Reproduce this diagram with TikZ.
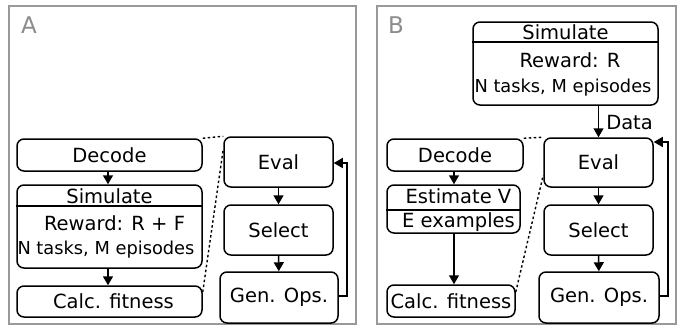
\documentclass[tikz,border=0pt]{standalone}
\usepackage{fontspec}
\setmainfont{DejaVu Sans}
\usetikzlibrary{arrows.meta,calc}
\begin{document}
\begin{tikzpicture}[x=1pt,y=-1pt,
  every node/.style={font=\fontsize{19.5}{22}\selectfont},
  box/.style={draw=black,line width=1.5pt,rounded corners=7pt,inner sep=0pt,anchor=center},
  lbl/.style={inner sep=0pt,anchor=base},
  smalllbl/.style={inner sep=0pt,anchor=base,font=\fontsize{17.8}{20}\selectfont},
  frame/.style={draw=black!40,line width=1.8pt},
  arr/.style={line width=1.5pt,-{Triangle[length=9pt,width=10pt]}},
  dotline/.style={line width=1.4pt,dash pattern=on 2.5pt off 2.5pt},
  plabel/.style={inner sep=0pt,text=black!45,font=\fontsize{23}{26}\selectfont}]
\useasboundingbox (0,0) rectangle (687,327);
% frames
\draw[frame] (9,6) rectangle (356,324);
\draw[frame] (377,6) rectangle (676,324);
\node[plabel] (labA) at (29,25) {A};
\node[plabel] (labB) at (396,25) {B};

% ---------- Panel A ----------
\node[box,minimum width=185pt,minimum height=32pt] (decA) at (109.5,155) {Decode};
\node[box,minimum width=185pt,minimum height=83pt] (simA) at (109.5,226.5) {};
\draw[line width=1.5pt] (simA.west |- 0,206) -- (simA.east |- 0,206);
\node[lbl] (simAt) at (109.5,203) {Simulate};
\node[lbl] (simAr) at (114.5,230) {Reward: R + F};
\node[smalllbl] (simAn) at (106,254) {N tasks, M episodes};
\node[box,minimum width=185pt,minimum height=31pt] (calA) at (109.5,301.5) {\hspace*{8pt}Calc. fitness};
\node[box,minimum width=109pt,minimum height=50pt] (evalA) at (278.5,162) {Eval};
\node[box,minimum width=109pt,minimum height=50pt] (selA) at (278.5,230) {Select};
\node[box,minimum width=118pt,minimum height=51pt] (genA) at (279,297.5) {Gen. Ops.};
\coordinate (fbA) at (347,0);

\draw[arr] (decA.south -| 108,0) -- (simA.north -| 108,0);
\draw[arr] (simA.south -| 108,0) -- (calA.north -| 108,0);
\draw[arr] (evalA) -- (selA);
\draw[arr] (selA) -- (genA);
\draw[arr] (genA.east |- 0,296) -| (fbA |- 0,163) -- (evalA.east |- 0,163);
\draw[dotline] (decA.north east) -- (evalA.north west);
\draw[dotline] (calA.east |- 0,292) -- ($(evalA.north west)!0.25!(evalA.south west)$);

% ---------- Panel B ----------
\node[box,minimum width=185pt,minimum height=83pt] (simB) at (565.5,63.5) {};
\draw[line width=1.5pt] (simB.west |- 0,42) -- (simB.east |- 0,42);
\node[lbl] (simBt) at (565.5,39) {Simulate};
\node[lbl] (simBr) at (570,67) {Reward: R};
\node[smalllbl] (simBn) at (563,92) {N tasks, M episodes};
\node[box,minimum width=109pt,minimum height=49pt] (evalB) at (598.5,162.5) {Eval};
\node[box,minimum width=109pt,minimum height=50pt] (selB) at (598.5,230) {Select};
\node[box,minimum width=120pt,minimum height=51pt] (genB) at (599,297.5) {Gen. Ops.};
\node[box,minimum width=136pt,minimum height=32pt] (decB) at (455,155) {Decode};
\node[box,minimum width=133pt,minimum height=48pt] (estB) at (453.5,209) {};
\draw[line width=1.5pt] (estB.west |- 0,210) -- (estB.east |- 0,210);
\node[lbl] (estBt) at (458.5,203) {Estimate V};
\node[lbl] (estBe) at (458.5,227) {E examples};
\node[box,minimum width=128pt,minimum height=32pt] (calB) at (451,301) {Calc. fitness};
\coordinate (fbB) at (668,0);

\draw[arr] (evalB.north |- simB.south) -- node[lbl,anchor=west,xshift=7pt,yshift=-1pt] (dataB) {Data} (evalB.north);
\draw[arr] (decB.south -| 454,0) -- (estB.north -| 454,0);
\draw[arr] (estB.south -| 454,0) -- (calB.north -| 454,0);
\draw[arr] (evalB) -- (selB);
\draw[arr] (selB) -- (genB);
\draw[arr] (genB.east |- 0,296) -| (fbB |- 0,142) -- (evalB.east |- 0,142);
\draw[dotline] (decB.north east) -- (evalB.north west);
\draw[dotline] (calB.east |- 0,292) -- ($(evalB.north west)!0.75!(evalB.south west)$);
\end{tikzpicture}
\end{document}
